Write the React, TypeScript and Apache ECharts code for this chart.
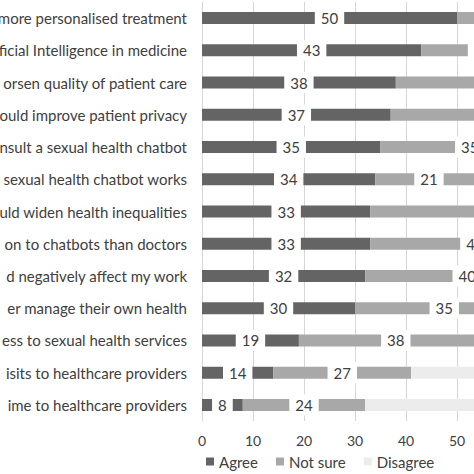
import React, { useEffect, useRef } from "react";
import * as echarts from "echarts";

const categories = [
  "more personalised treatment",
  "ficial Intelligence in medicine",
  "orsen quality of patient care",
  "ould improve patient privacy",
  "nsult a sexual health chatbot",
  "sexual health chatbot works",
  "uld widen health inequalities",
  "on to chatbots than doctors",
  "d negatively affect my work",
  "er manage their own health",
  "ess to sexual health services",
  "isits to healthcare providers",
  "ime to healthcare providers",
];

const agree = [50, 43, 38, 37, 35, 34, 33, 33, 32, 30, 19, 14, 8];
const notSure = [25, 24, 40, 42, 35, 21, 47, 41, 40, 35, 38, 27, 24];
const disagree = [25, 33, 22, 21, 30, 45, 20, 26, 28, 35, 43, 59, 68];
const xTicks = [0, 10, 20, 30, 40, 50];
const visibleMax = 58;

const FONT = "Lato, 'Liberation Sans', sans-serif";
const TEXT = "#404040";

export default function App() {
  const ref = useRef<HTMLDivElement>(null);
  useEffect(() => {
    if (!ref.current) return;
    const chart = echarts.init(ref.current, undefined, { renderer: "svg" });
    const label = {
      show: true,
      position: "inside" as const,
      color: TEXT,
      fontSize: 15,
      fontFamily: FONT,
      backgroundColor: "#ffffff",
      padding: [3, 6, 3, 6],
    };
    const mk = (name: string, data: number[], base: number[], color: string) => ({
      name,
      type: "bar",
      stack: "total",
      data: data.map((v, i) => ({
        value: v,
        label: { show: base[i] + v / 2 < visibleMax },
      })),
      barWidth: 12,
      itemStyle: { color },
      label,
    });
    const zeros = agree.map(() => 0);
    const afterAgree = agree.slice();
    const afterNotSure = agree.map((a, i) => a + notSure[i]);
    chart.setOption({
      animation: false,
      textStyle: { fontFamily: FONT },
      grid: {
        left: 202,
        top: 2,
        width: 510,
        height: 419,
        containLabel: false,
        outerBoundsMode: "none",
      },
      legend: {
        left: 201,
        top: 449,
        icon: "rect",
        itemWidth: 8,
        itemHeight: 8,
        itemGap: 18,
        textStyle: { fontSize: 15, color: TEXT, fontFamily: FONT },
        data: ["Agree", "Not sure", "Disagree"],
      },
      xAxis: {
        type: "value",
        min: 0,
        max: 100,
        interval: 10,
        axisLine: { show: false },
        axisTick: { show: false },
        splitLine: { show: true, lineStyle: { color: "#d6d6d6", width: 1 } },
        axisLabel: {
          fontSize: 14,
          color: TEXT,
          margin: 12,
          fontFamily: FONT,
          formatter: (v: number) => (xTicks.indexOf(v) >= 0 ? String(v) : ""),
        },
      },
      yAxis: {
        type: "category",
        inverse: true,
        data: categories,
        axisLine: { show: true, lineStyle: { color: "#d6d6d6", width: 1 } },
        axisTick: { show: false },
        axisLabel: { fontSize: 15, color: TEXT, margin: 15, fontFamily: FONT },
      },
      series: [
        mk("Agree", agree, zeros, "#646464"),
        mk("Not sure", notSure, afterAgree, "#a8a8a8"),
        mk("Disagree", disagree, afterNotSure, "#ececec"),
      ],
    });
    return () => chart.dispose();
  }, []);
  return (
    <div
      style={{
        position: "absolute",
        left: 0,
        top: 0,
        width: 474,
        height: 474,
        overflow: "hidden",
        background: "#fff",
      }}
    >
      <div ref={ref} style={{ width: 800, height: 474 }} />
    </div>
  );
}
